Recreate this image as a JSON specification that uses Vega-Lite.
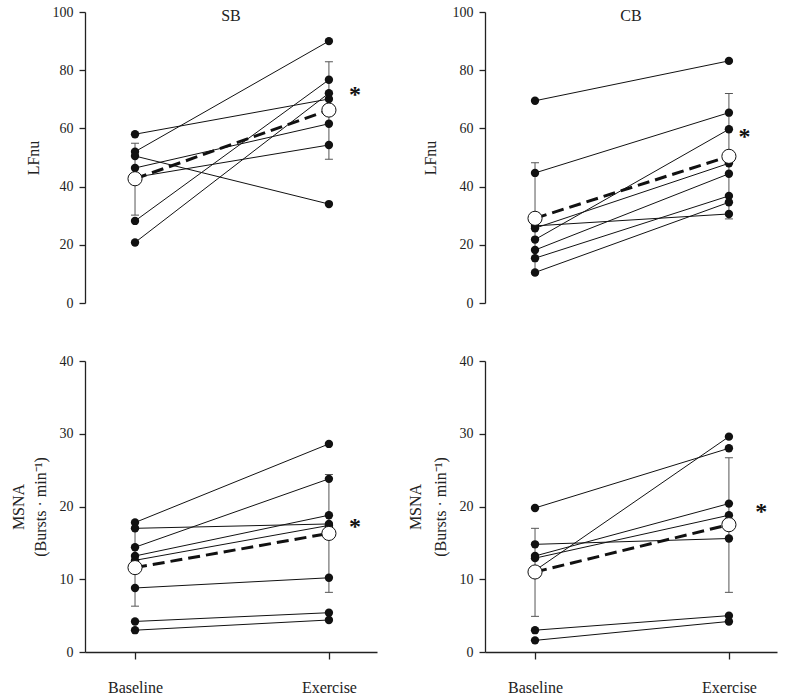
{
  "$schema": "https://vega.github.io/schema/vega-lite/v6.json",
  "padding": {"left": 10, "top": 5, "right": 5, "bottom": 5},
  "background": "white",
  "datasets": {
    "subjects": [
      {"panel": "SB_LF", "subject": 1, "t": 0, "value": 58.0}, {"panel": "SB_LF", "subject": 1, "t": 1, "value": 70.1},
      {"panel": "SB_LF", "subject": 2, "t": 0, "value": 52.0}, {"panel": "SB_LF", "subject": 2, "t": 1, "value": 90.0},
      {"panel": "SB_LF", "subject": 3, "t": 0, "value": 50.5}, {"panel": "SB_LF", "subject": 3, "t": 1, "value": 34.0},
      {"panel": "SB_LF", "subject": 4, "t": 0, "value": 46.4}, {"panel": "SB_LF", "subject": 4, "t": 1, "value": 61.6},
      {"panel": "SB_LF", "subject": 5, "t": 0, "value": 43.2}, {"panel": "SB_LF", "subject": 5, "t": 1, "value": 54.3},
      {"panel": "SB_LF", "subject": 6, "t": 0, "value": 28.2}, {"panel": "SB_LF", "subject": 6, "t": 1, "value": 76.7},
      {"panel": "SB_LF", "subject": 7, "t": 0, "value": 20.8}, {"panel": "SB_LF", "subject": 7, "t": 1, "value": 72.1},
      {"panel": "CB_LF", "subject": 1, "t": 0, "value": 69.5}, {"panel": "CB_LF", "subject": 1, "t": 1, "value": 83.2},
      {"panel": "CB_LF", "subject": 2, "t": 0, "value": 44.7}, {"panel": "CB_LF", "subject": 2, "t": 1, "value": 65.4},
      {"panel": "CB_LF", "subject": 3, "t": 0, "value": 26.5}, {"panel": "CB_LF", "subject": 3, "t": 1, "value": 30.6},
      {"panel": "CB_LF", "subject": 4, "t": 0, "value": 25.7}, {"panel": "CB_LF", "subject": 4, "t": 1, "value": 48.0},
      {"panel": "CB_LF", "subject": 5, "t": 0, "value": 21.8}, {"panel": "CB_LF", "subject": 5, "t": 1, "value": 59.7},
      {"panel": "CB_LF", "subject": 6, "t": 0, "value": 18.2}, {"panel": "CB_LF", "subject": 6, "t": 1, "value": 44.4},
      {"panel": "CB_LF", "subject": 7, "t": 0, "value": 15.4}, {"panel": "CB_LF", "subject": 7, "t": 1, "value": 36.8},
      {"panel": "CB_LF", "subject": 8, "t": 0, "value": 10.5}, {"panel": "CB_LF", "subject": 8, "t": 1, "value": 34.6},
      {"panel": "SB_MS", "subject": 1, "t": 0, "value": 17.8}, {"panel": "SB_MS", "subject": 1, "t": 1, "value": 28.6},
      {"panel": "SB_MS", "subject": 2, "t": 0, "value": 17.0}, {"panel": "SB_MS", "subject": 2, "t": 1, "value": 17.6},
      {"panel": "SB_MS", "subject": 3, "t": 0, "value": 14.4}, {"panel": "SB_MS", "subject": 3, "t": 1, "value": 23.8},
      {"panel": "SB_MS", "subject": 4, "t": 0, "value": 13.2}, {"panel": "SB_MS", "subject": 4, "t": 1, "value": 18.8},
      {"panel": "SB_MS", "subject": 5, "t": 0, "value": 12.6}, {"panel": "SB_MS", "subject": 5, "t": 1, "value": 17.4},
      {"panel": "SB_MS", "subject": 6, "t": 0, "value": 8.8}, {"panel": "SB_MS", "subject": 6, "t": 1, "value": 10.2},
      {"panel": "SB_MS", "subject": 7, "t": 0, "value": 4.2}, {"panel": "SB_MS", "subject": 7, "t": 1, "value": 5.4},
      {"panel": "SB_MS", "subject": 8, "t": 0, "value": 3.0}, {"panel": "SB_MS", "subject": 8, "t": 1, "value": 4.4},
      {"panel": "CB_MS", "subject": 1, "t": 0, "value": 19.8}, {"panel": "CB_MS", "subject": 1, "t": 1, "value": 28.0},
      {"panel": "CB_MS", "subject": 2, "t": 0, "value": 11.2}, {"panel": "CB_MS", "subject": 2, "t": 1, "value": 29.6},
      {"panel": "CB_MS", "subject": 3, "t": 0, "value": 14.8}, {"panel": "CB_MS", "subject": 3, "t": 1, "value": 15.6},
      {"panel": "CB_MS", "subject": 4, "t": 0, "value": 13.2}, {"panel": "CB_MS", "subject": 4, "t": 1, "value": 20.4},
      {"panel": "CB_MS", "subject": 5, "t": 0, "value": 12.9}, {"panel": "CB_MS", "subject": 5, "t": 1, "value": 18.8},
      {"panel": "CB_MS", "subject": 6, "t": 0, "value": 3.0}, {"panel": "CB_MS", "subject": 6, "t": 1, "value": 5.0},
      {"panel": "CB_MS", "subject": 7, "t": 0, "value": 1.6}, {"panel": "CB_MS", "subject": 7, "t": 1, "value": 4.2}
    ],
    "means": [
      {"panel": "SB_LF", "t": 0, "value": 42.7}, {"panel": "SB_LF", "t": 1, "value": 66.3},
      {"panel": "CB_LF", "t": 0, "value": 29.1}, {"panel": "CB_LF", "t": 1, "value": 50.4},
      {"panel": "SB_MS", "t": 0, "value": 11.6}, {"panel": "SB_MS", "t": 1, "value": 16.3},
      {"panel": "CB_MS", "t": 0, "value": 11.0}, {"panel": "CB_MS", "t": 1, "value": 17.5}
    ],
    "errs": [
      {"panel": "SB_LF", "t": 0, "value": 30.2}, {"panel": "SB_LF", "t": 0, "value": 54.9},
      {"panel": "SB_LF", "t": 1, "value": 49.4}, {"panel": "SB_LF", "t": 1, "value": 82.9},
      {"panel": "CB_LF", "t": 0, "value": 10.0}, {"panel": "CB_LF", "t": 0, "value": 48.2},
      {"panel": "CB_LF", "t": 1, "value": 28.9}, {"panel": "CB_LF", "t": 1, "value": 72.0},
      {"panel": "SB_MS", "t": 0, "value": 6.3}, {"panel": "SB_MS", "t": 0, "value": 16.9},
      {"panel": "SB_MS", "t": 1, "value": 8.2}, {"panel": "SB_MS", "t": 1, "value": 24.4},
      {"panel": "CB_MS", "t": 0, "value": 4.9}, {"panel": "CB_MS", "t": 0, "value": 17.0},
      {"panel": "CB_MS", "t": 1, "value": 8.2}, {"panel": "CB_MS", "t": 1, "value": 26.7}
    ],
    "stars": [
      {"panel": "SB_LF", "t": 1.135, "value": 72.9, "label": "*"},
      {"panel": "CB_LF", "t": 1.081, "value": 58.4, "label": "*"},
      {"panel": "SB_MS", "t": 1.135, "value": 17.8, "label": "*"},
      {"panel": "CB_MS", "t": 1.167, "value": 19.8, "label": "*"}
    ]
  },
  "columns": 2,
  "bounds": "flush",
  "spacing": {"row": 58, "column": 108},
  "concat": [
    {
      "width": 292, "height": 291,
      "title": {"text": "SB"},
      "encoding": {
        "x": {"field": "t", "type": "quantitative", "scale": {"domain": [-0.258, 1.248], "nice": false, "zero": false}, "axis": null},
        "y": {"field": "value", "type": "quantitative", "scale": {"domain": [0, 100], "nice": false, "zero": false}, "axis": {"title": "LFnu", "values": [0, 20, 40, 60, 80, 100], "titleX": -52}}
      },
      "layer": [
        {"data": {"name": "errs"}, "transform": [{"filter": "datum.panel == 'SB_LF'"}], "mark": {"type": "line", "color": "#555", "strokeWidth": 1}, "encoding": {"detail": {"field": "t"}}},
        {"data": {"name": "errs"}, "transform": [{"filter": "datum.panel == 'SB_LF'"}], "mark": {"type": "tick", "orient": "horizontal", "size": 8, "thickness": 1, "color": "#555", "opacity": 1}, "encoding": {}},
        {"data": {"name": "subjects"}, "transform": [{"filter": "datum.panel == 'SB_LF'"}], "mark": {"type": "line", "color": "#111", "strokeWidth": 1}, "encoding": {"detail": {"field": "subject"}}},
        {"data": {"name": "subjects"}, "transform": [{"filter": "datum.panel == 'SB_LF'"}], "mark": {"type": "circle", "size": 70, "color": "#111", "opacity": 1}, "encoding": {}},
        {"data": {"name": "means"}, "transform": [{"filter": "datum.panel == 'SB_LF'"}], "mark": {"type": "line", "color": "#111", "strokeWidth": 3, "strokeDash": [12, 6]}, "encoding": {}},
        {"data": {"name": "means"}, "transform": [{"filter": "datum.panel == 'SB_LF'"}], "mark": {"type": "point", "shape": "circle", "size": 200, "filled": true, "fill": "white", "stroke": "#111", "strokeWidth": 1, "opacity": 1}, "encoding": {}},
        {"data": {"name": "stars"}, "transform": [{"filter": "datum.panel == 'SB_LF'"}], "mark": {"type": "text", "fontSize": 24, "fontWeight": "bold", "font": "Liberation Serif", "color": "#111", "baseline": "middle", "dy": 4}, "encoding": {"text": {"field": "label"}}}
      ]
    },
    {
      "width": 292, "height": 291,
      "title": {"text": "CB"},
      "encoding": {
        "x": {"field": "t", "type": "quantitative", "scale": {"domain": [-0.258, 1.248], "nice": false, "zero": false}, "axis": null},
        "y": {"field": "value", "type": "quantitative", "scale": {"domain": [0, 100], "nice": false, "zero": false}, "axis": {"title": "LFnu", "values": [0, 20, 40, 60, 80, 100], "titleX": -55}}
      },
      "layer": [
        {"data": {"name": "errs"}, "transform": [{"filter": "datum.panel == 'CB_LF'"}], "mark": {"type": "line", "color": "#555", "strokeWidth": 1}, "encoding": {"detail": {"field": "t"}}},
        {"data": {"name": "errs"}, "transform": [{"filter": "datum.panel == 'CB_LF'"}], "mark": {"type": "tick", "orient": "horizontal", "size": 8, "thickness": 1, "color": "#555", "opacity": 1}, "encoding": {}},
        {"data": {"name": "subjects"}, "transform": [{"filter": "datum.panel == 'CB_LF'"}], "mark": {"type": "line", "color": "#111", "strokeWidth": 1}, "encoding": {"detail": {"field": "subject"}}},
        {"data": {"name": "subjects"}, "transform": [{"filter": "datum.panel == 'CB_LF'"}], "mark": {"type": "circle", "size": 70, "color": "#111", "opacity": 1}, "encoding": {}},
        {"data": {"name": "means"}, "transform": [{"filter": "datum.panel == 'CB_LF'"}], "mark": {"type": "line", "color": "#111", "strokeWidth": 3, "strokeDash": [12, 6]}, "encoding": {}},
        {"data": {"name": "means"}, "transform": [{"filter": "datum.panel == 'CB_LF'"}], "mark": {"type": "point", "shape": "circle", "size": 200, "filled": true, "fill": "white", "stroke": "#111", "strokeWidth": 1, "opacity": 1}, "encoding": {}},
        {"data": {"name": "stars"}, "transform": [{"filter": "datum.panel == 'CB_LF'"}], "mark": {"type": "text", "fontSize": 24, "fontWeight": "bold", "font": "Liberation Serif", "color": "#111", "baseline": "middle", "dy": 4}, "encoding": {"text": {"field": "label"}}}
      ]
    },
    {
      "width": 292, "height": 291,
      "encoding": {
        "x": {"field": "t", "type": "quantitative", "scale": {"domain": [-0.258, 1.248], "nice": false, "zero": false}, "axis": {"title": null, "values": [0, 1], "labelExpr": "datum.value == 0 ? 'Baseline' : 'Exercise'"}},
        "y": {"field": "value", "type": "quantitative", "scale": {"domain": [0, 40], "nice": false, "zero": false}, "axis": {"title": ["MSNA", "(Bursts · min⁻¹)"], "values": [0, 10, 20, 30, 40], "titleX": -67, "titleLineHeight": 22}}
      },
      "layer": [
        {"data": {"name": "errs"}, "transform": [{"filter": "datum.panel == 'SB_MS'"}], "mark": {"type": "line", "color": "#555", "strokeWidth": 1}, "encoding": {"detail": {"field": "t"}}},
        {"data": {"name": "errs"}, "transform": [{"filter": "datum.panel == 'SB_MS'"}], "mark": {"type": "tick", "orient": "horizontal", "size": 8, "thickness": 1, "color": "#555", "opacity": 1}, "encoding": {}},
        {"data": {"name": "subjects"}, "transform": [{"filter": "datum.panel == 'SB_MS'"}], "mark": {"type": "line", "color": "#111", "strokeWidth": 1}, "encoding": {"detail": {"field": "subject"}}},
        {"data": {"name": "subjects"}, "transform": [{"filter": "datum.panel == 'SB_MS'"}], "mark": {"type": "circle", "size": 70, "color": "#111", "opacity": 1}, "encoding": {}},
        {"data": {"name": "means"}, "transform": [{"filter": "datum.panel == 'SB_MS'"}], "mark": {"type": "line", "color": "#111", "strokeWidth": 3, "strokeDash": [12, 6]}, "encoding": {}},
        {"data": {"name": "means"}, "transform": [{"filter": "datum.panel == 'SB_MS'"}], "mark": {"type": "point", "shape": "circle", "size": 200, "filled": true, "fill": "white", "stroke": "#111", "strokeWidth": 1, "opacity": 1}, "encoding": {}},
        {"data": {"name": "stars"}, "transform": [{"filter": "datum.panel == 'SB_MS'"}], "mark": {"type": "text", "fontSize": 24, "fontWeight": "bold", "font": "Liberation Serif", "color": "#111", "baseline": "middle", "dy": 4}, "encoding": {"text": {"field": "label"}}}
      ]
    },
    {
      "width": 292, "height": 291,
      "encoding": {
        "x": {"field": "t", "type": "quantitative", "scale": {"domain": [-0.258, 1.248], "nice": false, "zero": false}, "axis": {"title": null, "values": [0, 1], "labelExpr": "datum.value == 0 ? 'Baseline' : 'Exercise'"}},
        "y": {"field": "value", "type": "quantitative", "scale": {"domain": [0, 40], "nice": false, "zero": false}, "axis": {"title": ["MSNA", "(Bursts · min⁻¹)"], "values": [0, 10, 20, 30, 40], "titleX": -70, "titleLineHeight": 25}}
      },
      "layer": [
        {"data": {"name": "errs"}, "transform": [{"filter": "datum.panel == 'CB_MS'"}], "mark": {"type": "line", "color": "#555", "strokeWidth": 1}, "encoding": {"detail": {"field": "t"}}},
        {"data": {"name": "errs"}, "transform": [{"filter": "datum.panel == 'CB_MS'"}], "mark": {"type": "tick", "orient": "horizontal", "size": 8, "thickness": 1, "color": "#555", "opacity": 1}, "encoding": {}},
        {"data": {"name": "subjects"}, "transform": [{"filter": "datum.panel == 'CB_MS'"}], "mark": {"type": "line", "color": "#111", "strokeWidth": 1}, "encoding": {"detail": {"field": "subject"}}},
        {"data": {"name": "subjects"}, "transform": [{"filter": "datum.panel == 'CB_MS'"}], "mark": {"type": "circle", "size": 70, "color": "#111", "opacity": 1}, "encoding": {}},
        {"data": {"name": "means"}, "transform": [{"filter": "datum.panel == 'CB_MS'"}], "mark": {"type": "line", "color": "#111", "strokeWidth": 3, "strokeDash": [12, 6]}, "encoding": {}},
        {"data": {"name": "means"}, "transform": [{"filter": "datum.panel == 'CB_MS'"}], "mark": {"type": "point", "shape": "circle", "size": 200, "filled": true, "fill": "white", "stroke": "#111", "strokeWidth": 1, "opacity": 1}, "encoding": {}},
        {"data": {"name": "stars"}, "transform": [{"filter": "datum.panel == 'CB_MS'"}], "mark": {"type": "text", "fontSize": 24, "fontWeight": "bold", "font": "Liberation Serif", "color": "#111", "baseline": "middle", "dy": 4}, "encoding": {"text": {"field": "label"}}}
      ]
    }
  ],
  "config": {
    "font": "Liberation Serif",
    "view": {"stroke": null},
    "axis": {"domainColor": "#222", "domainWidth": 1.3, "tickColor": "#222", "tickWidth": 1.3, "grid": false, "labelFont": "Liberation Serif", "labelColor": "#222", "labelFontSize": 14, "titleFont": "Liberation Serif", "titleFontWeight": "normal", "titleColor": "#222", "titleFontSize": 16},
    "axisY": {"tickSize": 6, "labelPadding": 6, "titleBaseline": "middle", "titleLineHeight": 23, "titleAngle": -90},
    "axisX": {"tickSize": 7, "labelPadding": 20, "labelFontSize": 16},
    "title": {"font": "Liberation Serif", "fontSize": 16, "fontWeight": "normal", "color": "#222", "offset": -19, "baseline": "middle", "anchor": "middle", "frame": "group"}
  }
}
